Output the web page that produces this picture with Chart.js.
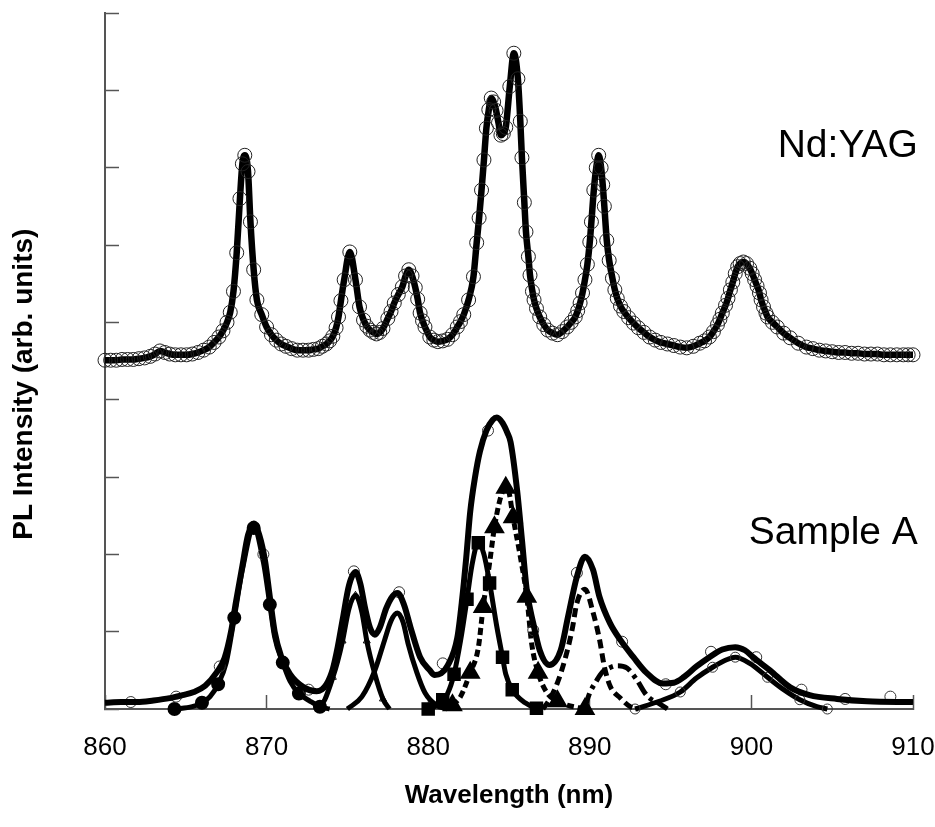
<!DOCTYPE html>
<html>
<head>
<meta charset="utf-8">
<title>PL spectra</title>
<script src="https://cdn.jsdelivr.net/npm/chart.js@4.4.1/dist/chart.umd.min.js"></script>
<style>
    body { margin: 0; background: #fff; }
    #wrap { width: 935px; height: 827px; }
</style>
</head>
<body>
<div id="wrap"><canvas id="pl-chart" width="935" height="827"></canvas></div>
<script>
// Nd:YAG spectrum (offset upwards)
const ndWl = [
    860.0, 860.35, 860.7, 861.05, 861.4, 861.75, 862.1, 862.45, 862.8, 863.1,
    863.4, 863.7, 864.0, 864.35, 864.7, 865.05, 865.4, 865.75, 866.1, 866.45,
    866.75, 867.05, 867.3, 867.55, 867.75, 867.95, 868.15, 868.35, 868.5, 868.65,
    868.85, 869.0, 869.2, 869.4, 869.7, 870.0, 870.3, 870.6, 870.9, 871.2,
    871.55, 871.9, 872.25, 872.6, 872.9, 873.2, 873.45, 873.7, 873.9, 874.1,
    874.3, 874.45, 874.6, 874.8, 875.15, 875.5, 875.75, 876.0, 876.2, 876.4,
    876.6, 876.8, 877.0, 877.2, 877.5, 877.7, 877.9, 878.15, 878.4, 878.6,
    878.8, 879.0, 879.2, 879.35, 879.5, 879.65, 879.8, 880.1, 880.35, 880.6,
    880.9, 881.2, 881.5, 881.8, 882.0, 882.2, 882.5, 882.8, 883.0, 883.15,
    883.3, 883.45, 883.6, 883.75, 883.9, 884.05, 884.2, 884.35, 884.5, 884.65,
    884.8, 885.05, 885.3, 885.55, 885.7, 885.8, 885.95, 886.05, 886.2, 886.3,
    886.45, 886.55, 886.7, 886.9, 887.15, 887.4, 887.7, 888.0, 888.3, 888.6,
    888.85, 889.1, 889.25, 889.4, 889.55, 889.7, 889.85, 890.0, 890.1, 890.25,
    890.4, 890.55, 890.7, 890.8, 890.9, 891.05, 891.2, 891.4, 891.55, 891.7,
    891.9, 892.1, 892.4, 892.7, 893.0, 893.35, 893.7, 894.05, 894.4, 894.8,
    895.2, 895.6, 896.0, 896.4, 896.8, 897.1, 897.4, 897.65, 897.9, 898.05,
    898.2, 898.4, 898.55, 898.7, 898.85, 899.0, 899.15, 899.3, 899.5, 899.7,
    899.9, 900.05, 900.2, 900.35, 900.5, 900.6, 900.75, 900.9, 901.0, 901.3,
    901.6, 902.0, 902.4, 902.9, 903.4, 903.8, 904.2, 904.6, 905.0, 905.4,
    905.8, 906.2, 906.6, 907.0, 907.4, 907.8, 908.2, 908.6, 909.0, 909.4,
    909.7, 910.0
];
const ndPl = [
    4.51, 4.51, 4.51, 4.52, 4.52, 4.52, 4.53, 4.54, 4.56, 4.59,
    4.63, 4.61, 4.59, 4.58, 4.58, 4.58, 4.59, 4.61, 4.64, 4.68,
    4.74, 4.81, 4.89, 5.00, 5.13, 5.40, 5.90, 6.60, 7.05, 7.16,
    6.95, 6.30, 5.68, 5.29, 5.10, 4.94, 4.84, 4.77, 4.72, 4.69,
    4.66, 4.64, 4.64, 4.64, 4.65, 4.66, 4.69, 4.72, 4.76, 4.82,
    4.93, 5.07, 5.28, 5.55, 5.91, 5.55, 5.20, 5.03, 4.95, 4.90,
    4.87, 4.85, 4.87, 4.92, 5.05, 5.14, 5.25, 5.36, 5.46, 5.60,
    5.68, 5.60, 5.45, 5.30, 5.12, 5.02, 4.94, 4.81, 4.77, 4.75,
    4.76, 4.78, 4.84, 4.94, 5.01, 5.10, 5.29, 5.59, 6.03, 6.35,
    6.71, 7.10, 7.51, 7.75, 7.90, 7.85, 7.74, 7.58, 7.42, 7.44,
    7.52, 8.05, 8.48, 8.15, 7.60, 7.13, 6.55, 6.17, 5.85, 5.61,
    5.40, 5.29, 5.18, 5.07, 4.97, 4.90, 4.86, 4.84, 4.88, 4.94,
    5.00, 5.07, 5.15, 5.25, 5.38, 5.55, 5.75, 6.04, 6.30, 6.71,
    7.00, 7.16, 7.00, 6.78, 6.50, 6.06, 5.80, 5.57, 5.42, 5.31,
    5.21, 5.14, 5.06, 4.99, 4.93, 4.87, 4.81, 4.77, 4.74, 4.72,
    4.70, 4.68, 4.67, 4.69, 4.73, 4.76, 4.81, 4.88, 4.97, 5.04,
    5.12, 5.22, 5.31, 5.42, 5.52, 5.63, 5.72, 5.76, 5.78, 5.76,
    5.70, 5.63, 5.55, 5.47, 5.38, 5.29, 5.20, 5.12, 5.07, 5.00,
    4.94, 4.86, 4.80, 4.73, 4.68, 4.66, 4.64, 4.63, 4.62, 4.61,
    4.61, 4.60, 4.60, 4.59, 4.59, 4.59, 4.58, 4.58, 4.58, 4.58,
    4.58, 4.58
];

// Sample A: total fit
const aWl = [860.0, 861.0, 862.0, 863.0, 864.0, 864.8, 865.5, 866.2, 866.9, 867.4, 867.8, 868.1, 868.5, 868.85, 869.2, 869.55, 869.9, 870.2, 870.5, 870.9, 871.45, 872.3, 873.1, 873.7, 874.1, 874.4, 874.7, 875.1, 875.5, 875.8, 876.1, 876.4, 876.7, 877.0, 877.4, 877.8, 878.1, 878.5, 878.9, 879.5, 880.1, 880.4, 880.8, 881.2, 881.8, 882.1, 882.35, 882.6, 882.9, 883.2, 883.6, 884.0, 884.25, 884.6, 884.9, 885.1, 885.5, 885.8, 886.1, 886.5, 886.9, 887.5, 888.2, 888.65, 889.2, 889.7, 890.2, 890.6, 891.25, 891.9, 892.7, 893.5, 894.5, 895.2, 895.8, 896.6, 897.4, 898.2, 899.0, 899.6, 900.1, 901.15, 902.4, 903.6, 905.3, 907.15, 910.0];
const aPl = [0.08, 0.09, 0.09, 0.11, 0.14, 0.18, 0.22, 0.30, 0.47, 0.66, 1.00, 1.38, 1.85, 2.25, 2.40, 2.25, 1.92, 1.45, 1.00, 0.68, 0.45, 0.28, 0.23, 0.32, 0.52, 0.80, 1.15, 1.60, 1.77, 1.62, 1.30, 1.05, 0.96, 1.05, 1.30, 1.46, 1.50, 1.35, 1.06, 0.67, 0.50, 0.44, 0.46, 0.56, 0.92, 1.42, 1.95, 2.55, 3.00, 3.33, 3.60, 3.74, 3.77, 3.70, 3.57, 3.45, 2.83, 2.19, 1.54, 1.11, 0.76, 0.57, 0.76, 1.19, 1.71, 1.97, 1.80, 1.45, 1.11, 0.89, 0.67, 0.47, 0.33, 0.34, 0.41, 0.55, 0.67, 0.77, 0.80, 0.76, 0.67, 0.50, 0.28, 0.18, 0.13, 0.10, 0.09];

// Sample A: measured points
const aDataWl = [861.6, 864.4, 867.1, 869.8, 872.6, 875.4, 878.2, 880.9, 883.7, 886.5, 889.2, 892.0, 894.7, 897.5, 900.3, 903.1, 905.8, 908.6];
const aDataPl = [0.09, 0.16, 0.55, 2.00, 0.25, 1.78, 1.51, 0.59, 3.60, 1.02, 1.76, 0.87, 0.32, 0.74, 0.67, 0.25, 0.13, 0.16];

// Sample A: fitted components
const c1Wl = [864.3, 865.4, 866.0, 866.5, 867.0, 867.5, 868.0, 868.5, 869.2, 869.8, 870.2, 870.5, 871.0, 871.45, 872.0, 872.7, 873.3, 873.9];
const c1Pl = [0.00, 0.03, 0.08, 0.16, 0.32, 0.60, 1.18, 1.80, 2.34, 1.90, 1.35, 0.93, 0.60, 0.36, 0.20, 0.10, 0.03, 0.00];
const c2Wl = [873.2, 873.6, 874.1, 874.4, 874.7, 875.1, 875.5, 875.9, 876.2, 876.7, 877.2, 877.6];
const c2Pl = [0.00, 0.12, 0.41, 0.62, 0.88, 1.30, 1.47, 1.25, 0.88, 0.45, 0.13, 0.00];
const c3Wl = [875.0, 875.9, 876.7, 877.3, 877.7, 878.1, 878.45, 878.75, 879.3, 879.8, 880.5, 881.2];
const c3Pl = [0.00, 0.16, 0.50, 0.89, 1.14, 1.24, 1.12, 0.85, 0.47, 0.21, 0.05, 0.00];
const c4Wl = [880.0, 880.4, 880.9, 881.2, 881.6, 882.0, 882.4, 882.7, 883.1, 883.45, 883.8, 884.25, 884.6, 884.8, 885.2, 886.0, 886.7, 887.1];
const c4Pl = [0.00, 0.03, 0.12, 0.20, 0.45, 0.88, 1.42, 1.85, 2.15, 2.00, 1.63, 1.06, 0.67, 0.45, 0.25, 0.08, 0.01, 0.00];
const c5Wl = [881.5, 882.0, 882.6, 883.1, 883.4, 883.8, 884.1, 884.5, 884.8, 885.0, 885.25, 885.7, 886.1, 886.4, 886.8, 887.35, 888.0, 888.6, 889.7];
const c5Pl = [0.05, 0.16, 0.47, 0.79, 1.32, 1.89, 2.35, 2.75, 2.86, 2.80, 2.48, 1.97, 1.45, 0.85, 0.47, 0.21, 0.10, 0.05, 0.00];
const c6Wl = [887.1, 887.5, 888.0, 888.5, 888.9, 889.2, 889.7, 890.2, 890.6, 890.9, 891.25, 891.9, 892.5, 893.0];
const c6Pl = [0.00, 0.12, 0.34, 0.67, 1.02, 1.37, 1.55, 1.25, 0.90, 0.55, 0.30, 0.14, 0.03, 0.00];
const c7Wl = [889.7, 890.0, 890.4, 890.75, 891.2, 891.7, 892.3, 892.9, 893.4, 893.7, 894.3, 894.8];
const c7Pl = [0.03, 0.21, 0.36, 0.47, 0.53, 0.56, 0.53, 0.38, 0.21, 0.14, 0.07, 0.00];
const c8Wl = [892.8, 894.3, 895.6, 896.6, 897.6, 898.5, 899.0, 899.9, 901.0, 902.0, 903.0, 904.05, 904.7];
const c8Pl = [0.00, 0.10, 0.22, 0.40, 0.54, 0.64, 0.67, 0.59, 0.41, 0.25, 0.12, 0.03, 0.00];

const xTicks = [860, 870, 880, 890, 900, 910];
const yMax = 9;

const FONT = '"Liberation Sans", Arial, sans-serif';

function toPoints(xs, ys) {
    return xs.map((x, i) => ({ x: x, y: ys[i] }));
}

function everyOther(size) {
    return ctx => (ctx.dataIndex % 2 === 0 ? size : 0);
}

function lineSet(xs, ys, extra) {
    return Object.assign({
        data: toPoints(xs, ys),
        borderColor: '#000',
        borderWidth: 5,
        borderJoinStyle: 'round',
        cubicInterpolationMode: 'monotone',
        pointRadius: 0,
        pointBorderColor: '#000',
        pointBackgroundColor: '#000',
        clip: 10
    }, extra || {});
}

// sample names inside the plot and the rotated y title
const labelPlugin = {
    id: 'sampleLabels',
    afterDraw(chart) {
        const ctx = chart.ctx;
        const xs = chart.scales.x;
        const ys = chart.scales.y;
        ctx.save();
        ctx.fillStyle = '#000';
        ctx.font = '39px ' + FONT;
        ctx.textAlign = 'right';
        ctx.textBaseline = 'alphabetic';
        ctx.fillText('Nd:YAG', xs.getPixelForValue(910.3), ys.getPixelForValue(7.14));
        ctx.fillText('Sample A', xs.getPixelForValue(910.3), ys.getPixelForValue(2.13));

        ctx.translate(24, ys.getPixelForValue(4.2));
        ctx.rotate(-Math.PI / 2);
        ctx.font = 'bold 28px ' + FONT;
        ctx.textAlign = 'center';
        ctx.textBaseline = 'middle';
        ctx.fillText('PL Intensity (arb. units)', 0, 0);
        ctx.restore();
    }
};

const datasets = [
    lineSet(ndWl, ndPl, {
        borderWidth: 6.5,
        pointRadius: 7,
        pointBorderWidth: 1,
        pointBorderColor: '#222',
        pointBackgroundColor: 'rgba(0,0,0,0)'
    }),
    lineSet(aWl, aPl, { borderWidth: 6 }),
    {
        data: toPoints(aDataWl, aDataPl),
        showLine: false,
        pointRadius: 5.5,
        pointBorderWidth: 1,
        pointBorderColor: '#333',
        pointBackgroundColor: 'rgba(0,0,0,0)',
        clip: 10
    },
    lineSet(c1Wl, c1Pl, { pointStyle: 'circle', pointRadius: everyOther(4.5) }),
    lineSet(c2Wl, c2Pl, { pointStyle: 'triangle', pointRadius: everyOther(4), pointBorderWidth: 1, pointBackgroundColor: 'rgba(0,0,0,0)' }),
    lineSet(c3Wl, c3Pl),
    lineSet(c4Wl, c4Pl, { pointStyle: 'rect', pointRadius: everyOther(6) }),
    lineSet(c5Wl, c5Pl, { borderDash: [7, 4], pointStyle: 'triangle', pointRadius: everyOther(7) }),
    lineSet(c6Wl, c6Pl, { borderDash: [9, 5] }),
    lineSet(c7Wl, c7Pl, { borderDash: [14, 5, 4, 5] }),
    lineSet(c8Wl, c8Pl, {
        pointStyle: 'circle',
        pointRadius: everyOther(5),
        pointBorderWidth: 1,
        pointBorderColor: '#333',
        pointBackgroundColor: 'rgba(0,0,0,0)'
    })
];

const chart = new Chart(document.getElementById('pl-chart').getContext('2d'), {
    type: 'line',
    data: { datasets: datasets },
    plugins: [labelPlugin],
    options: {
        responsive: false,
        animation: false,
        devicePixelRatio: 1,
        layout: { padding: { top: 13, right: 22, left: 0, bottom: 0 } },
        plugins: {
            legend: { display: false },
            tooltip: { enabled: false }
        },
        scales: {
            x: {
                type: 'linear',
                min: xTicks[0],
                max: xTicks[xTicks.length - 1],
                afterFit: s => { s.height = 118; s.paddingLeft = 0; s.paddingRight = 0; },
                afterBuildTicks: s => { s.ticks = xTicks.map(v => ({ value: v })); },
                border: { display: true, color: '#555', width: 2 },
                grid: { drawOnChartArea: false, drawTicks: true, tickLength: -14, tickColor: '#555', tickWidth: 1.5 },
                ticks: {
                    color: '#000',
                    padding: 37,
                    maxRotation: 0,
                    font: { family: FONT, size: 26 }
                },
                title: {
                    display: true,
                    text: 'Wavelength (nm)',
                    color: '#000',
                    padding: { top: 0, bottom: 16 },
                    font: { family: FONT, size: 26, weight: 'bold' }
                }
            },
            y: {
                min: 0,
                max: yMax,
                afterFit: s => { s.width = 105; s.paddingTop = 0; s.paddingBottom = 0; },
                border: { display: true, color: '#555', width: 2 },
                grid: { drawOnChartArea: false, drawTicks: true, tickLength: -14, tickColor: '#555', tickWidth: 1.5 },
                ticks: { stepSize: 1, display: false }
            }
        }
    }
});
</script>
</body>
</html>
